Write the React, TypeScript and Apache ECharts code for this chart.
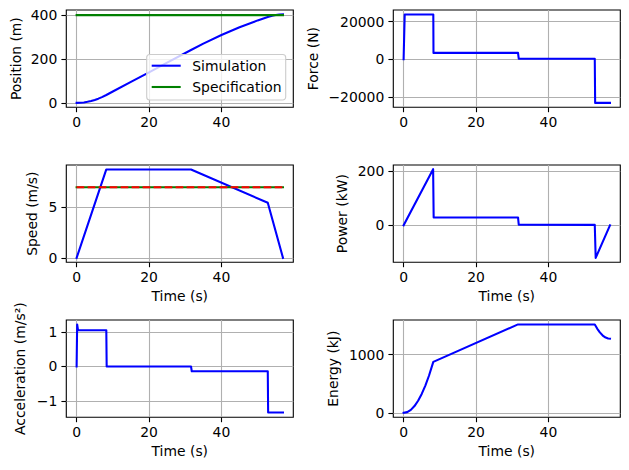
import React, { useEffect, useRef } from 'react';
import * as echarts from 'echarts';

// ---- data ----
const POS_T = [0, 1, 2, 3, 4, 5, 6, 7, 8.2, 10, 15, 20, 25, 31.6, 35, 40, 45, 50, 52.8, 54, 55, 56, 57];
const POS_M = [0, 0.5, 2.1, 4.8, 8.5, 13.4, 19.2, 26.2, 35.9, 51.7, 95.5, 139.3, 183.1, 240.9, 269.8, 309, 344.3, 375.8, 391.6, 397.2, 400.5, 402.4, 403];
const SPEC_POS_T = [0, 57];
const SPEC_POS = [400, 400];

const FORCE_T = [0, 0.3, 8.2, 8.25, 31.6, 31.8, 52.8, 52.9, 57];
const FORCE_N = [0, 23800, 23800, 3400, 3400, 300, 300, -23100, -23100];

const SPEED_T = [0, 8.2, 31.6, 52.8, 57];
const SPEED = [0, 8.76, 8.76, 5.46, 0];
const SPEC_SPEED_T = [0, 57];
const SPEC_SPEED = [7.0, 7.0];

const POWER_T = [0, 8.15, 8.3, 31.6, 31.8, 52.8, 53.05, 57];
const POWER_KW = [0, 207, 29, 29, 2.5, 1.5, -120, 0];

const ACC_T = [0, 0.15, 0.4, 8.2, 8.3, 31.6, 31.8, 52.8, 52.9, 57];
const ACC = [0, 1.22, 1.05, 1.05, 0, 0, -0.14, -0.14, -1.34, -1.34];

const ENERGY_T = [0, 1, 2, 3, 4, 5, 6, 7, 8.2, 31.6, 52.8, 53.5, 54.2, 55, 55.8, 56.5, 57];
const ENERGY_KJ = [0, 13, 52, 117, 208, 325, 468, 637, 874, 1517, 1517, 1442, 1380, 1326, 1291, 1276, 1272];

const X_TICKS = [0, 20, 40];
const Y_TICKS = [
  [0, 200, 400],
  [-20000, 0, 20000],
  [0, 5],
  [0, 200],
  [-1, 0, 1],
  [0, 1000],
];
const Y_NAMES = ['Position (m)', 'Force (N)', 'Speed (m/s)', 'Power (kW)', 'Acceleration (m/s²)', 'Energy (kJ)'];
const Y_RANGES = [
  [-20.15, 423.2],
  [-25445, 26145],
  [-0.44, 9.2],
  [-136.3, 222.3],
  [-1.478, 1.349],
  [-75.85, 1592.85],
];
const X_RANGE = [-2.85, 59.85];
const LEGEND_NAMES = ['Simulation', 'Specification'];

// ---- styling / layout ----
const FONT = 'DejaVu Sans';
const FS = 13.9;
const LW = 2.08;
const GRID_LEFTS = [66.3, 393.3];
const GRID_TOPS = [10, 165, 320];
const GRID_W = 227;
const GRID_H = 97.3;
const NAME_GAPS = [43, 73, 27, 44, 39, 53];

const zip = (a: number[], b: number[]) => a.map((v, i) => [v, b[i]]);
const fmt = (v: number) => (v < 0 ? '\u2212' + Math.abs(v) : String(v));

function buildOption() {
  const grids: any[] = [];
  const xAxes: any[] = [];
  const yAxes: any[] = [];
  for (let r = 0; r < 3; r++) {
    for (let c = 0; c < 2; c++) {
      const i = r * 2 + c;
      grids.push({
        left: GRID_LEFTS[c],
        top: GRID_TOPS[r],
        width: GRID_W,
        height: GRID_H,
        show: true,
        borderColor: '#000',
        borderWidth: 1.1,
        backgroundColor: 'transparent',
        containLabel: false,
        outerBoundsMode: 'none',
      });
      xAxes.push({
        type: 'value',
        gridIndex: i,
        min: X_RANGE[0],
        max: X_RANGE[1],
        name: r > 0 ? 'Time (s)' : '',
        nameLocation: 'middle',
        nameGap: 27,
        nameMoveOverlap: false,
        nameTextStyle: { fontFamily: FONT, fontSize: FS, color: '#000' },
        axisLine: { show: false, onZero: false },
        axisTick: { show: true, inside: false, length: 4.9, customValues: X_TICKS, lineStyle: { color: '#000', width: 1.1 } },
        axisLabel: { show: true, margin: 8, customValues: X_TICKS, formatter: fmt, fontFamily: FONT, fontSize: FS, color: '#000' },
        splitLine: { show: true, lineStyle: { color: '#b0b0b0', width: 1.1 } },
      });
      yAxes.push({
        type: 'value',
        gridIndex: i,
        min: Y_RANGES[i][0],
        max: Y_RANGES[i][1],
        name: Y_NAMES[i],
        nameLocation: 'middle',
        nameRotate: 90,
        nameGap: NAME_GAPS[i],
        nameMoveOverlap: false,
        nameTextStyle: { fontFamily: FONT, fontSize: FS, color: '#000' },
        axisLine: { show: false, onZero: false },
        axisTick: { show: true, inside: false, length: 4.9, customValues: Y_TICKS[i], lineStyle: { color: '#000', width: 1.1 } },
        axisLabel: { show: true, margin: 9, customValues: Y_TICKS[i], formatter: fmt, fontFamily: FONT, fontSize: FS, color: '#000' },
        splitLine: { show: true, lineStyle: { color: '#b0b0b0', width: 1.1 } },
      });
    }
  }

  const line = (name: string, idx: number, data: number[][], color: string, extra: any = {}) => ({
    type: 'line',
    name,
    xAxisIndex: idx,
    yAxisIndex: idx,
    data,
    symbol: 'none',
    showSymbol: false,
    silent: true,
    lineStyle: { color, width: LW, cap: 'square', join: 'round', ...extra },
    itemStyle: { color },
    z: 3,
  });

  const series = [
    line(LEGEND_NAMES[0], 0, zip(POS_T, POS_M), '#0000ff'),
    line(LEGEND_NAMES[1], 0, zip(SPEC_POS_T, SPEC_POS), '#008000'),
    line('Force', 1, zip(FORCE_T, FORCE_N), '#0000ff'),
    line('Speed', 2, zip(SPEED_T, SPEED), '#0000ff'),
    line('Speed spec', 2, zip(SPEC_SPEED_T, SPEC_SPEED), '#008000'),
    line('Speed spec dashed', 2, zip(SPEC_SPEED_T, SPEC_SPEED), '#ff0000', { type: [7.7, 3.3], cap: 'butt' }),
    line('Power', 3, zip(POWER_T, POWER_KW), '#0000ff'),
    line('Acceleration', 4, zip(ACC_T, ACC), '#0000ff'),
    line('Energy', 5, zip(ENERGY_T, ENERGY_KJ), '#0000ff'),
  ];

  const legendX = 146.7;
  const legendY = 54.5;
  const graphic = [
    {
      type: 'rect',
      z: 100,
      shape: { x: legendX, y: legendY, width: 139, height: 45.5, r: 3 },
      style: { fill: 'rgba(255,255,255,0.8)', stroke: '#cccccc', lineWidth: 1.1 },
    },
    {
      type: 'line',
      z: 101,
      shape: { x1: legendX + 5, y1: legendY + 11.2, x2: legendX + 34, y2: legendY + 11.2 },
      style: { stroke: '#0000ff', lineWidth: LW },
    },
    {
      type: 'line',
      z: 101,
      shape: { x1: legendX + 5, y1: legendY + 32.5, x2: legendX + 34, y2: legendY + 32.5 },
      style: { stroke: '#008000', lineWidth: LW },
    },
    {
      type: 'text',
      z: 101,
      x: legendX + 45.6,
      y: legendY + 11.2,
      style: { text: LEGEND_NAMES[0], fill: '#000', font: `${FS}px "${FONT}"`, verticalAlign: 'middle', align: 'left' },
    },
    {
      type: 'text',
      z: 101,
      x: legendX + 45.6,
      y: legendY + 32.5,
      style: { text: LEGEND_NAMES[1], fill: '#000', font: `${FS}px "${FONT}"`, verticalAlign: 'middle', align: 'left' },
    },
  ];

  return {
    animation: false,
    backgroundColor: '#ffffff',
    textStyle: { fontFamily: FONT },
    grid: grids,
    xAxis: xAxes,
    yAxis: yAxes,
    series,
    graphic,
  };
}

export default function App() {
  const ref = useRef<HTMLDivElement>(null);
  useEffect(() => {
    if (!ref.current) return;
    const chart = echarts.init(ref.current, null, { renderer: 'svg' });
    chart.setOption(buildOption() as any);
    return () => chart.dispose();
  }, []);
  return <div ref={ref} style={{ position: 'absolute', left: 0, top: 0, width: 629, height: 470 }} />;
}
